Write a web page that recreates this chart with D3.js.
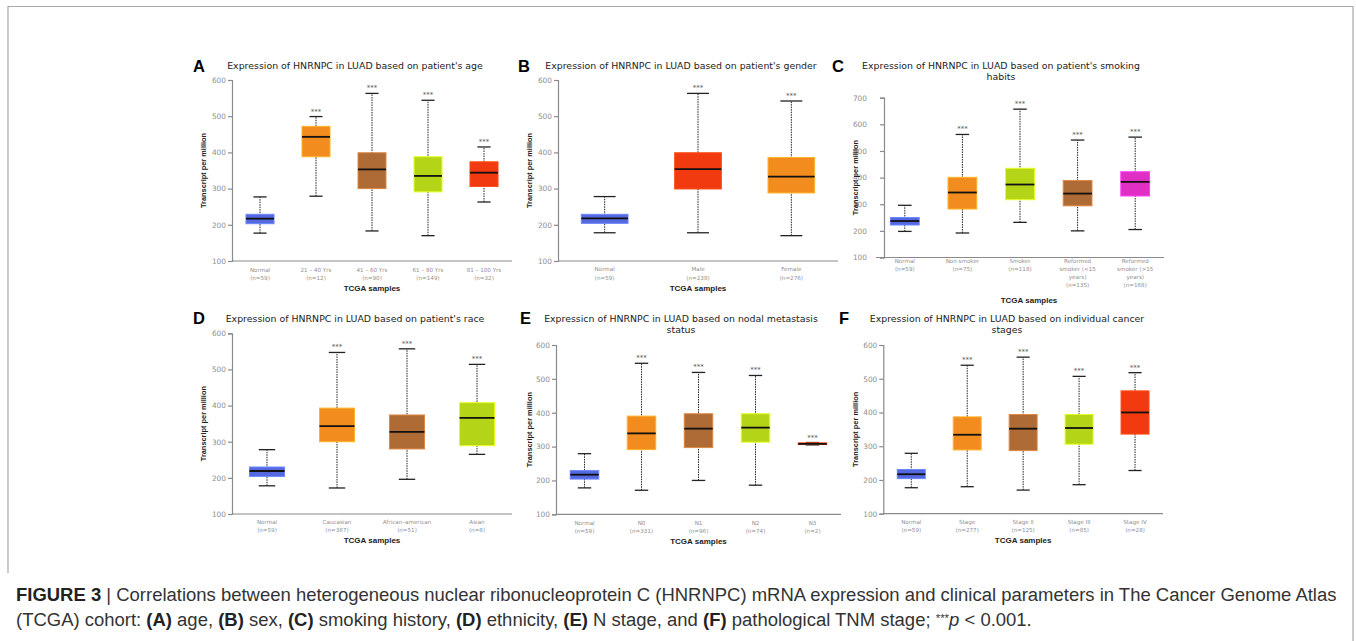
<!DOCTYPE html>
<html><head><meta charset="utf-8">
<script src="https://cdn.jsdelivr.net/npm/d3@7"></script>
<style>body{margin:0;background:#fff}svg{display:block}</style>
</head><body>
<svg id="c" width="1356" height="641"></svg>
<script>
// ---------------- DATA ----------------
// stats per group: [lower whisker, Q1, median, Q3, upper whisker]
const titleA = ["Expression of HNRNPC in LUAD based on patient's age"];
const catsA = ["Normal", "21 – 40 Yrs", "41 – 60 Yrs", "61 – 80 Yrs", "81 – 100 Yrs"];
const nA = ["(n=59)", "(n=12)", "(n=90)", "(n=149)", "(n=32)"];
const statsA = [[177,203,217,229,277],[279,388,443,472,499],[183,300,353,399,563],[170,291,335,388,544],[263,306,344,374,415]];

const titleB = ["Expression of HNRNPC in LUAD based on patient's gender"];
const catsB = ["Normal", "Male", "Female"];
const nB = ["(n=59)", "(n=238)", "(n=276)"];
const statsB = [[178,204,218,229,278],[178,299,354,399,563],[170,288,333,386,542]];

const titleC = ["Expression of HNRNPC in LUAD based on patient's smoking", "habits"];
const catsC = ["Normal", "Non smoker", "Smoker", "Reformed|smoker (<15|years)", "Reformed|smoker (>15|years)"];
const nC = ["(n=59)", "(n=75)", "(n=118)", "(n=135)", "(n=168)"];
const statsC = [[198,222,237,250,296],[192,282,344,401,562],[232,317,374,435,657],[200,294,340,389,541],[205,331,384,422,552]];

const titleD = ["Expression of HNRNPC in LUAD based on patient's race"];
const catsD = ["Normal", "Caucasian", "African–american", "Asian"];
const nD = ["(n=59)", "(n=387)", "(n=51)", "(n=8)"];
const statsD = [[178,204,219,230,278],[172,300,343,393,547],[196,280,327,374,557],[265,289,366,408,514]];

const titleE = ["Expressicn of HNRNPC in LUAD based on nodal metastasis", "status"];
const catsE = ["Normal", "N0", "N1", "N2", "N3"];
const nE = ["(n=59)", "(n=331)", "(n=96)", "(n=74)", "(n=2)"];
const statsE = [[178,204,217,229,279],[171,291,339,390,546],[200,297,353,397,519],[186,313,356,397,510],[305,306,308,311,312]];

const titleF = ["Expression of HNRNPC in LUAD based on individual cancer", "stages"];
const catsF = ["Normal", "Stage", "Stage II", "Stage III", "Stage IV"];
const nF = ["(n=59)", "(n=277)", "(n=125)", "(n=85)", "(n=28)"];
const statsF = [[177,204,217,231,279],[180,289,334,387,540],[170,287,352,394,564],[186,306,354,394,507],[228,336,400,464,518]];

const yTicks600 = [100, 200, 300, 400, 500, 600];
const yTicks700 = [100, 200, 300, 400, 500, 600, 700];
const signif = "***";
const xAxisTitle = "TCGA samples";
const yAxisTitle = "Transcript per million";

// ---------------- STYLE / LAYOUT ----------------
const COL = {blue:"#5468df", orange:"#f28c1f", brown:"#ae6b35", lime:"#b4d418", red:"#f23a11", magenta:"#e02fc3"};

const panels = [
 {letter:"A", title:titleA, cats:catsA, n:nA, stats:statsA, ticks:yTicks600, domain:[100,600],
  colors:[COL.blue,COL.orange,COL.brown,COL.lime,COL.red],
  lx:193, ly:71.5, tx:355, ty:68.5, ax:232, b0:232, b1:512, yT:80, yB:261, lab0:270, tcga:288, yl:203, tpad:2},
 {letter:"B", title:titleB, cats:catsB, n:nB, stats:statsB, ticks:yTicks600, domain:[100,600],
  colors:[COL.blue,COL.red,COL.orange],
  lx:518, ly:71.5, tx:681, ty:68.5, ax:558, b0:558, b1:838, yT:80, yB:261, lab0:269.5, tcga:288, yl:529, tpad:2},
 {letter:"C", title:titleC, cats:catsC, n:nC, stats:statsC, ticks:yTicks700, domain:[100,700],
  colors:[COL.blue,COL.orange,COL.lime,COL.brown,COL.magenta],
  lx:832, ly:71.5, tx:1001, ty:68.5, ax:884, b0:876, b1:1164, yT:97.7, yB:257.5, lab0:261, tcga:300, tcgaX:1029, yl:855, tpad:13},
 {letter:"D", title:titleD, cats:catsD, n:nD, stats:statsD, ticks:yTicks600, domain:[100,600],
  colors:[COL.blue,COL.orange,COL.brown,COL.lime],
  lx:193, ly:323.5, tx:355, ty:321.5, ax:232, b0:232, b1:512, yT:333.3, yB:514, lab0:522, tcga:540.5, yl:203, tpad:2},
 {letter:"E", title:titleE, cats:catsE, n:nE, stats:statsE, ticks:yTicks600, domain:[100,600],
  colors:[COL.blue,COL.orange,COL.brown,COL.lime,COL.red],
  lx:520, ly:323.5, tx:681, ty:321.5, ax:556, b0:556, b1:841, yT:345, yB:514.3, lab0:523.3, tcga:541, yl:529, tpad:2},
 {letter:"F", title:titleF, cats:catsF, n:nF, stats:statsF, ticks:yTicks600, domain:[100,600],
  colors:[COL.blue,COL.orange,COL.brown,COL.lime,COL.red],
  lx:839, ly:323.5, tx:1007, ty:321.5, ax:883.3, b0:883.3, b1:1163, yT:345, yB:513.7, lab0:522, tcga:540.5, yl:855, tpad:2}
];

const svg = d3.select("#c");

// frame
const frame = svg.append("g").attr("stroke","#a8a8a8").attr("stroke-width",1.2).attr("fill","none");
frame.append("path").attr("d", d3.line()([[8,573],[8,6.5],[1353,6.5],[1353,641]]));

function drawPanel(p) {
  const g = svg.append("g");
  const y = d3.scaleLinear().domain(p.domain).range([p.yB, p.yT]);
  const x = d3.scaleBand().domain(p.cats).range([p.b0, p.b1]).padding(0);
  const bw = x.bandwidth();
  const boxW = bw * 0.5, capW = boxW * 0.47;

  // panel letter
  g.append("text").attr("x", p.lx).attr("y", p.ly).text(p.letter)
    .attr("font-family","Liberation Sans, Arial, sans-serif").attr("font-weight","bold")
    .attr("font-size",16.5).attr("fill","#000");
  // title
  p.title.forEach((t,i)=>{
    g.append("text").attr("x",p.tx).attr("y",p.ty + i*11.8).attr("text-anchor","middle").text(t)
      .attr("font-family","DejaVu Sans, sans-serif").attr("font-size",9.4).attr("fill","#222");
  });

  // y axis
  const ya = g.append("g").attr("transform",`translate(${p.ax},0)`)
    .call(d3.axisLeft(y).tickValues(p.ticks).tickSize(4).tickPadding(p.tpad).tickFormat(d3.format("d")));
  ya.selectAll("path,line").attr("stroke","#8a8a8a").attr("stroke-width",1.2);
  ya.selectAll("text").attr("fill","#8f8f8f").attr("font-family","DejaVu Sans, sans-serif").attr("font-size",7.4);

  // x axis baseline
  g.append("line").attr("x1",Math.min(p.ax,p.b0)).attr("x2",p.b1).attr("y1",y(p.domain[0])).attr("y2",y(p.domain[0]))
    .attr("stroke","#8a8a8a").attr("stroke-width",1.2);

  // boxes
  p.cats.forEach((c,i)=>{
    const s = p.stats[i];
    const cx = x(c) + bw/2;
    const col = p.colors[i];
    // whisker (dotted)
    g.append("line").attr("x1",cx).attr("x2",cx).attr("y1",y(s[0])).attr("y2",y(s[4]))
      .attr("stroke","#222").attr("stroke-width",1).attr("stroke-dasharray","1.5,1");
    // caps
    [s[0],s[4]].forEach(v=>{
      g.append("line").attr("x1",cx-capW/2).attr("x2",cx+capW/2).attr("y1",y(v)).attr("y2",y(v))
        .attr("stroke","#222").attr("stroke-width",1.3);
    });
    // box
    g.append("rect").attr("x",cx-boxW/2).attr("width",boxW)
      .attr("y",y(s[3])).attr("height",Math.max(1.5,y(s[1])-y(s[3])))
      .attr("fill",col).attr("stroke",d3.color(col).brighter(0.7)).attr("stroke-width",1);
    // median
    g.append("line").attr("x1",cx-boxW/2).attr("x2",cx+boxW/2).attr("y1",y(s[2])).attr("y2",y(s[2]))
      .attr("stroke","#111").attr("stroke-width",1.8);
    // significance
    if (i>0) {
      g.append("text").attr("x",cx).attr("y",y(s[4]) - 3).attr("text-anchor","middle").text(signif)
        .attr("font-family","DejaVu Sans, sans-serif").attr("font-size",7).attr("fill","#555");
    }
    // category labels
    const lines = c.split("|").concat([p.n[i]]);
    lines.forEach((t,k)=>{
      g.append("text").attr("x",cx).attr("y",p.lab0 + k*8.1).attr("dy","0.35em").attr("text-anchor","middle").text(t)
        .attr("font-family","DejaVu Sans, sans-serif").attr("font-size",5.6).attr("fill","#8f8f8f");
    });
  });

  // x axis title
  const tcx = p.tcgaX || (p.ax + p.b1)/2;
  g.append("text").attr("x",tcx).attr("y",p.tcga).attr("dy","0.35em").attr("text-anchor","middle").text(xAxisTitle)
    .attr("font-family","Liberation Sans, Arial, sans-serif").attr("font-weight","bold").attr("font-size",8).attr("fill","#222");
  // y axis title
  const ymid = (p.yT + p.yB)/2;
  g.append("text").attr("transform",`translate(${p.yl},${ymid}) rotate(-90)`).attr("dy","0.35em")
    .attr("text-anchor","middle").text(yAxisTitle)
    .attr("font-family","Liberation Sans, Arial, sans-serif").attr("font-weight","bold").attr("font-size",7.4).attr("fill","#222");
}
panels.forEach(drawPanel);

// caption
const capFont = "Liberation Sans, Arial, sans-serif";
function captionLine(parts, yb, target) {
  const t = svg.append("text").attr("x",16).attr("y",yb).attr("font-family",capFont).attr("font-size",17).attr("fill","#333");
  parts.forEach(pt=>{
    const ts = t.append("tspan").text(pt.t);
    if (pt.b) ts.attr("font-weight","bold").attr("fill","#222");
    if (pt.i) ts.attr("font-style","italic");
  });
  const w = t.node().getComputedTextLength();
  if (target) t.attr("font-size", 17*target/w);
  return t;
}
const l1 = captionLine([
  {t:"FIGURE 3",b:true},{t:" | Correlations between heterogeneous nuclear ribonucleoprotein C (HNRNPC) mRNA expression and clinical parameters in The Cancer Genome Atlas"}
], 601, 1322);
const fs = +l1.attr("font-size");
const l2 = svg.append("text").attr("x",16).attr("y",626).attr("font-family",capFont).attr("font-size",fs).attr("fill","#333");
[
 {t:"(TCGA) cohort: "},{t:"(A)",b:true},{t:" age, "},{t:"(B)",b:true},{t:" sex, "},{t:"(C)",b:true},{t:" smoking history, "},
 {t:"(D)",b:true},{t:" ethnicity, "},{t:"(E)",b:true},{t:" N stage, and "},{t:"(F)",b:true},{t:" pathological TNM stage; "},
 {t:"***",sup:true},{t:"p",i:true},{t:" < 0.001."}
].forEach(pt=>{
  const ts = l2.append("tspan").text(pt.t);
  if (pt.b) ts.attr("font-weight","bold").attr("fill","#222");
  if (pt.i) ts.attr("font-style","italic");
  if (pt.sup) ts.attr("font-size",fs*0.62).attr("baseline-shift","40%");
});
</script>
</body></html>
